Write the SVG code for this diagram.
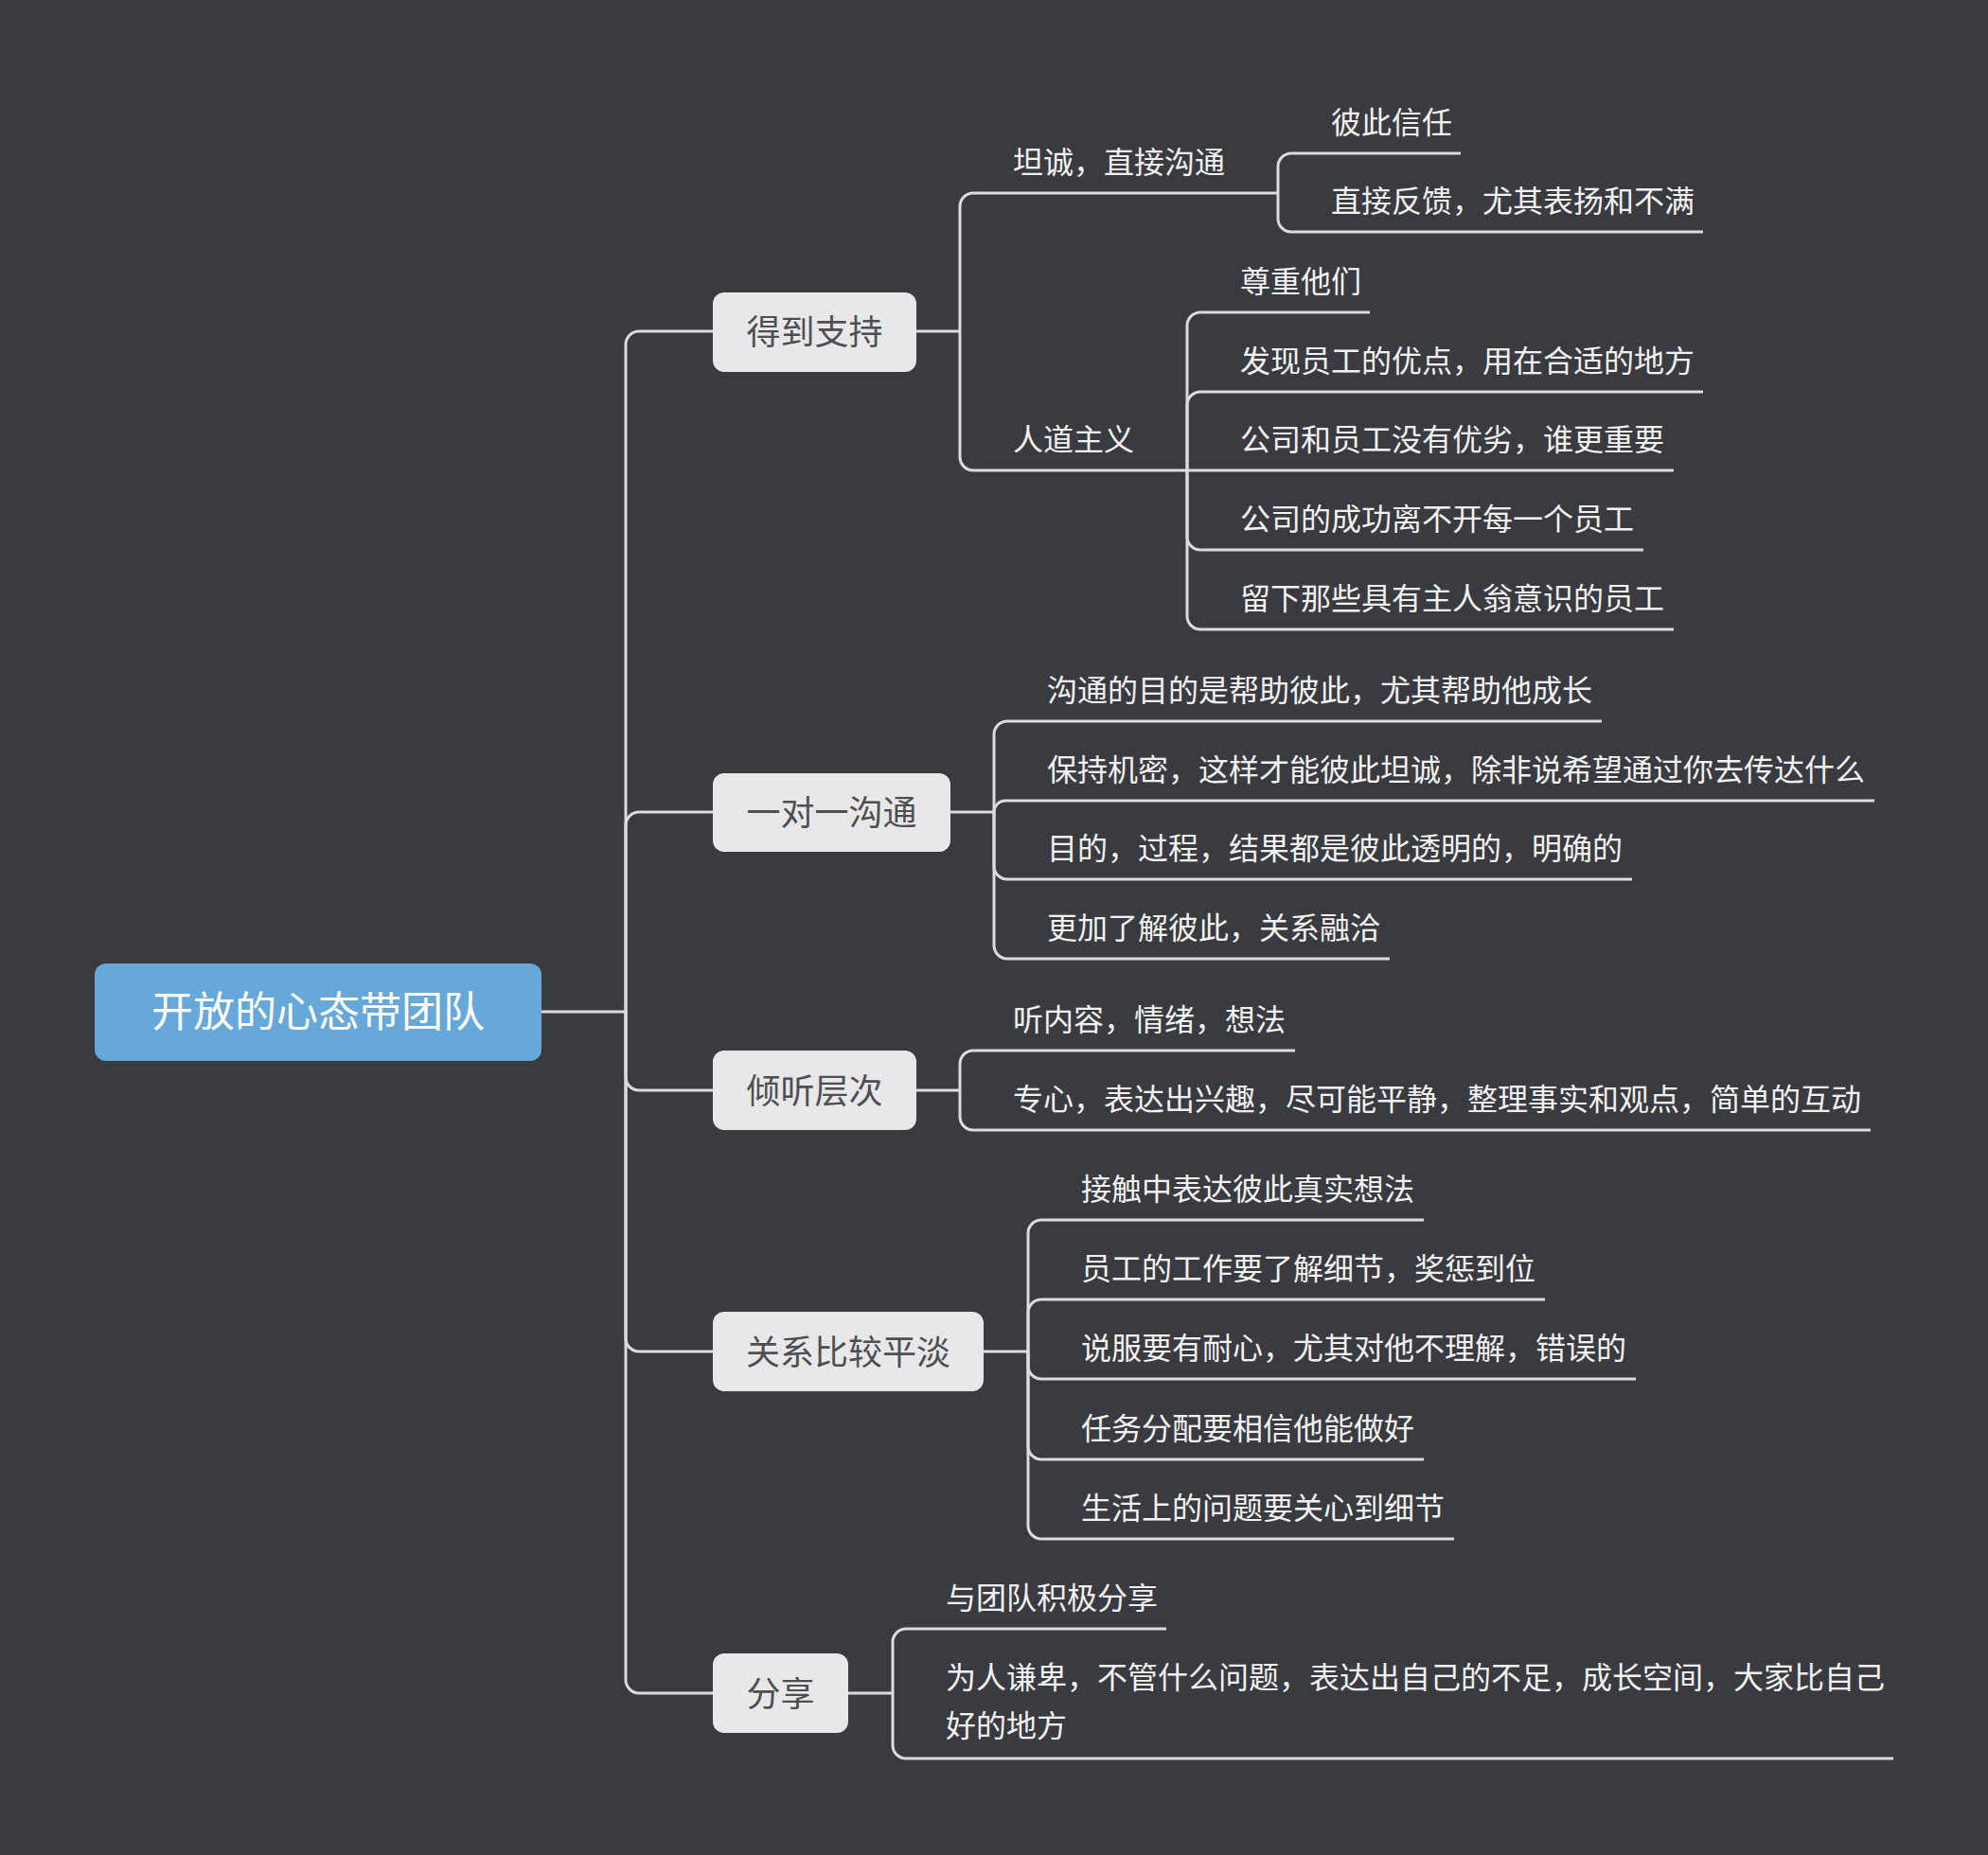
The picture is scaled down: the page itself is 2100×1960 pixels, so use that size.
<svg xmlns="http://www.w3.org/2000/svg" width="2100" height="1960" viewBox="0 0 2100 1960">
<style>
.bg{fill:#3A3B40}
.root{fill:#65A8D9}
.rt{font-family:"Noto Sans CJK SC","Noto Sans",sans-serif;font-size:44px;fill:#FFFFFF;text-anchor:middle}
.br{fill:#E8E8EA}
.bt{font-family:"Noto Sans CJK SC","Noto Sans",sans-serif;font-size:36px;fill:#4F4F52;text-anchor:middle}
.lt{font-family:"Noto Sans CJK SC","Noto Sans",sans-serif;font-size:32px;fill:#F2F2F2}
.c{fill:none;stroke:#DCDCDE;stroke-width:3;stroke-linecap:butt}
</style>
<rect class="bg" x="0" y="0" width="2100" height="1960"/>
<g id="connectors">
<path class="c" d="M572 1069 H661"/>
<path class="c" d="M661 1069 V364 A14 14 0 0 1 675 350 H753"/>
<path class="c" d="M661 1069 V872 A14 14 0 0 1 675 858 H753"/>
<path class="c" d="M661 1069 V1138 A14 14 0 0 0 675 1152 H753"/>
<path class="c" d="M661 1069 V1414 A14 14 0 0 0 675 1428 H753"/>
<path class="c" d="M661 1069 V1775 A14 14 0 0 0 675 1789 H753"/>
<path class="c" d="M968 350 H1014"/>
<path class="c" d="M1014 350 V218 A14 14 0 0 1 1028 204 H1350"/>
<path class="c" d="M1014 350 V483 A14 14 0 0 0 1028 497 H1254"/>
<path class="c" d="M1350 204 V176 A14 14 0 0 1 1364 162 H1543"/>
<path class="c" d="M1350 204 V231 A14 14 0 0 0 1364 245 H1799"/>
<path class="c" d="M1254 497 V344 A14 14 0 0 1 1268 330 H1447"/>
<path class="c" d="M1254 497 V428 A14 14 0 0 1 1268 414 H1799"/>
<path class="c" d="M1254 497 H1768"/>
<path class="c" d="M1254 497 V567 A14 14 0 0 0 1268 581 H1736"/>
<path class="c" d="M1254 497 V651 A14 14 0 0 0 1268 665 H1768"/>
<path class="c" d="M1004 858 H1050"/>
<path class="c" d="M1050 858 V776 A14 14 0 0 1 1064 762 H1692"/>
<path class="c" d="M1050 858 A12 12 0 0 1 1062 846 H1980"/>
<path class="c" d="M1050 858 V915 A14 14 0 0 0 1064 929 H1724"/>
<path class="c" d="M1050 858 V999 A14 14 0 0 0 1064 1013 H1468"/>
<path class="c" d="M968 1152 H1014"/>
<path class="c" d="M1014 1152 V1124 A14 14 0 0 1 1028 1110 H1368"/>
<path class="c" d="M1014 1152 V1180 A14 14 0 0 0 1028 1194 H1976"/>
<path class="c" d="M1039 1428 H1086"/>
<path class="c" d="M1086 1428 V1303 A14 14 0 0 1 1100 1289 H1504"/>
<path class="c" d="M1086 1428 V1387 A14 14 0 0 1 1100 1373 H1632"/>
<path class="c" d="M1086 1428 V1443 A14 14 0 0 0 1100 1457 H1728"/>
<path class="c" d="M1086 1428 V1528 A14 14 0 0 0 1100 1542 H1504"/>
<path class="c" d="M1086 1428 V1612 A14 14 0 0 0 1100 1626 H1536"/>
<path class="c" d="M896 1789 H943"/>
<path class="c" d="M943 1789 V1735 A14 14 0 0 1 957 1721 H1232"/>
<path class="c" d="M943 1789 V1844 A14 14 0 0 0 957 1858 H2000"/>
</g>
<g id="root">
<rect class="root" x="100" y="1018" width="472" height="103" rx="12"/>
<text class="rt" x="336" y="1085">开放的心态带团队</text>
</g>
<g id="b1">
<rect class="br" x="753" y="309" width="215" height="84" rx="12"/>
<text class="bt" x="860.5" y="364">得到支持</text>
</g>
<g id="b2">
<rect class="br" x="753" y="817" width="251" height="83" rx="12"/>
<text class="bt" x="878.5" y="872">一对一沟通</text>
</g>
<g id="b3">
<rect class="br" x="753" y="1110" width="215" height="84" rx="12"/>
<text class="bt" x="860.5" y="1166">倾听层次</text>
</g>
<g id="b4">
<rect class="br" x="753" y="1386" width="286" height="84" rx="12"/>
<text class="bt" x="896" y="1442">关系比较平淡</text>
</g>
<g id="b5">
<rect class="br" x="753" y="1747" width="143" height="84" rx="12"/>
<text class="bt" x="824.5" y="1803">分享</text>
</g>
<g id="n1a"><text class="lt" x="1070" y="183">坦诚，直接沟通</text></g>
<g id="n1a1"><text class="lt" x="1406" y="141">彼此信任</text></g>
<g id="n1a2"><text class="lt" x="1406" y="224">直接反馈，尤其表扬和不满</text></g>
<g id="n1b"><text class="lt" x="1070" y="476">人道主义</text></g>
<g id="n1b1"><text class="lt" x="1310" y="309">尊重他们</text></g>
<g id="n1b2"><text class="lt" x="1310" y="393">发现员工的优点，用在合适的地方</text></g>
<g id="n1b3"><text class="lt" x="1310" y="476">公司和员工没有优劣，谁更重要</text></g>
<g id="n1b4"><text class="lt" x="1310" y="560">公司的成功离不开每一个员工</text></g>
<g id="n1b5"><text class="lt" x="1310" y="644">留下那些具有主人翁意识的员工</text></g>
<g id="n2a"><text class="lt" x="1106" y="741">沟通的目的是帮助彼此，尤其帮助他成长</text></g>
<g id="n2b"><text class="lt" x="1106" y="825">保持机密，这样才能彼此坦诚，除非说希望通过你去传达什么</text></g>
<g id="n2c"><text class="lt" x="1106" y="908">目的，过程，结果都是彼此透明的，明确的</text></g>
<g id="n2d"><text class="lt" x="1106" y="992">更加了解彼此，关系融洽</text></g>
<g id="n3a"><text class="lt" x="1070" y="1089">听内容，情绪，想法</text></g>
<g id="n3b"><text class="lt" x="1070" y="1173">专心，表达出兴趣，尽可能平静，整理事实和观点，简单的互动</text></g>
<g id="n4a"><text class="lt" x="1142" y="1268">接触中表达彼此真实想法</text></g>
<g id="n4b"><text class="lt" x="1142" y="1352">员工的工作要了解细节，奖惩到位</text></g>
<g id="n4c"><text class="lt" x="1142" y="1436">说服要有耐心，尤其对他不理解，错误的</text></g>
<g id="n4d"><text class="lt" x="1142" y="1521">任务分配要相信他能做好</text></g>
<g id="n4e"><text class="lt" x="1142" y="1605">生活上的问题要关心到细节</text></g>
<g id="n5a"><text class="lt" x="999" y="1700">与团队积极分享</text></g>
<g id="n5b"><text class="lt" x="999" y="1784">为人谦卑，不管什么问题，表达出自己的不足，成长空间，大家比自己<tspan x="999" y="1835">好的地方</tspan></text></g>
</svg>
